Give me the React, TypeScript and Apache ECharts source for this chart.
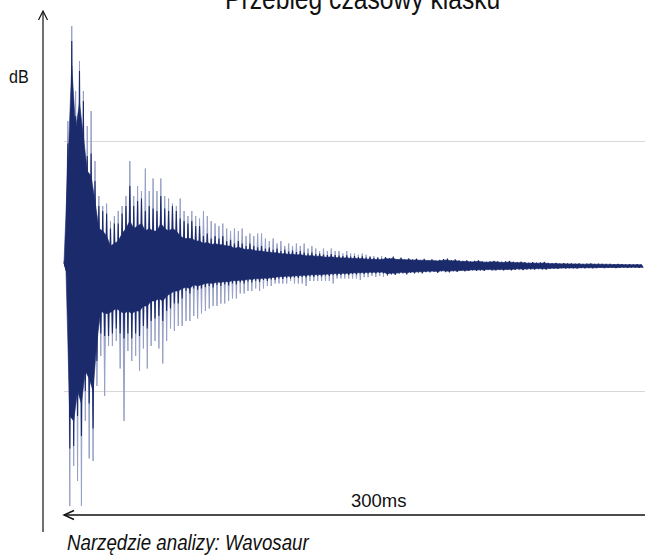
import React, { useEffect, useRef } from "react";
import * as echarts from "echarts";

// Time step between samples of the envelope (ms); axis spans 0..300 ms
const STEP_MS = 2;
const X_MAX_MS = 300;

const titleText = "Przebieg czasowy klasku";
const yLabel = "dB";
const spanLabel = "300ms";
const sourceText = "Narzędzie analizy: Wavosaur";

// Light (outer spike) envelope, % of full scale, first part of the decay
const peakHi = [
  2, 58, 96, 70, 82, 70, 56, 62, 42, 28,
  24, 25, 18, 20, 22, 24, 28, 42, 28, 32,
  30, 39, 30, 35, 30, 35, 28, 27, 25, 24,
  27, 22, 20, 22, 20, 19, 22, 20, 18, 17,
  16, 17, 15, 14, 15, 14, 15, 12, 13, 12,
  13, 13, 11, 10, 11, 9, 10, 8, 9, 8,
  9, 8, 9, 7, 8, 7, 6, 7, 6, 7,
  6, 6, 5, 6, 5, 5, 4.5, 5, 4.5, 4,
  4, 3.5, 4,
];
const peakLo = [
  -2, -96, -80, -86, -96, -62, -77, -78, -48, -36,
  -52, -32, -32, -30, -41, -62, -34, -38, -36, -42,
  -33, -41, -32, -30, -33, -39, -30, -25, -26, -24,
  -24, -22, -22, -20, -21, -19, -18, -17, -16, -16,
  -15, -15, -14, -13, -13, -11, -11, -10, -10, -9,
  -10, -9, -8, -8, -7, -7, -7, -7, -6, -7,
  -7, -7, -8, -6, -6, -6, -6, -6, -6, -7,
  -5, -5, -5, -5, -5, -5, -5.6, -4.5, -4.5, -4,
  -4.4, -4, -4.4,
];

// Dark spike envelope, % of full scale, whole 300 ms
const coreHi = [
  1.5, 49, 90, 60, 78, 66, 44, 45, 34, 24,
  22, 21, 15, 17, 17, 21, 24, 32, 24, 26,
  27, 22, 24, 23, 22, 28, 23, 22, 24, 22,
  19, 18, 17, 18, 16, 16, 12, 13, 11, 12,
  11, 12, 10, 10.5, 9, 10, 9, 8, 9, 8,
  7.5, 8, 7, 7.4, 6.5, 7, 6, 6.6, 5.8, 6.2,
  5.6, 6, 5.4, 5, 5.4, 4.8, 5, 4.6, 4.4, 4.8,
  4.4, 4.2, 4, 4.3, 3.8, 4, 3.6, 3.9, 3.4, 3.6,
  3.2, 3.4, 3,
  3.6, 3.2, 3.8, 2.8, 3.4, 2.8, 3.1, 2.7, 3, 2.5,
  2.9, 2.4, 2.7, 2.3, 2.5, 2.8, 3, 2.4, 2.7, 2.3,
  2.1, 2.3, 1.9, 2.1, 2.3, 1.9, 1.7, 1.9, 2.1, 1.9,
  1.7, 1.9, 2.1, 1.7, 1.5, 1.7, 1.5, 1.3, 1.5, 1.3,
  1.4, 1.6, 1.2, 1.1, 1.2, 1, 1.1, 1, 1, 0.9,
  1, 0.8, 0.9, 1, 0.8, 0.9, 0.8, 0.8, 0.8, 0.7,
  0.8, 0.7, 0.6, 0.7, 0.6, 0.7, 0.6,
];
const coreLo = [
  -1.5, -73, -72, -60, -68, -50, -55, -65, -38, -27,
  -28, -28, -27, -25, -27, -29, -27, -29, -27, -28,
  -24, -25, -22, -21, -20, -22, -18, -17, -15, -15,
  -13, -10, -11, -9, -9.5, -9, -8.5, -8, -8.6, -7.6,
  -8, -7.4, -7.8, -7, -7.4, -6.6, -7, -6.2, -6.6, -6,
  -6.4, -5.6, -6, -5.4, -5.6, -5, -5.2, -4.8, -5, -4.6,
  -4.8, -4.4, -4.6, -4.2, -4.4, -4, -4.2, -3.8, -4, -3.6,
  -3.8, -3.6, -3.4, -3.6, -3.2, -3.4, -3, -3.2, -3, -2.9,
  -3, -2.8, -3,
  -3.8, -3.4, -3.6, -3.1, -3, -3.4, -2.8, -3, -2.7, -3,
  -2.5, -2.6, -2.4, -2.8, -2.2, -2.5, -2.6, -2.2, -2.4, -2,
  -2.2, -2, -1.8, -2, -1.8, -2, -1.6, -1.8, -1.8, -1.6,
  -1.8, -1.6, -1.8, -1.5, -1.4, -1.6, -1.4, -1.3, -1.4, -1.2,
  -1.3, -1.4, -1.1, -1, -1.1, -0.9, -1, -0.9, -0.9, -1,
  -0.8, -0.9, -0.8, -0.9, -0.8, -0.7, -0.8, -0.7, -0.7, -0.8,
  -0.7, -0.6, -0.7, -0.6, -0.6, -0.7, -0.6,
];

// Solid dark band (dense body of the waveform), % of full scale
const solidHi = [
  1, 40, 80, 55, 65, 52, 38, 36, 26, 15,
  14, 12, 8, 9, 10, 13, 15, 18, 15, 16,
  17, 14, 15, 14, 14, 17, 15, 14, 15, 14,
  12, 11, 11, 11, 10, 10, 9, 9.5, 8.5, 9,
  8.5, 8.5, 8, 8, 7, 7.5, 7, 6.5, 6.8, 6.2,
  6, 6, 5.6, 5.6, 5.2, 5.4, 4.8, 5, 4.6, 4.8,
  4.4, 4.6, 4.2, 4, 4.2, 3.8, 4, 3.6, 3.5, 3.7,
  3.4, 3.3, 3.2, 3.3, 3, 3.1, 2.9, 3, 2.7, 2.8,
  2.6, 2.7, 2.5,
  3, 2.8, 3.1, 2.5, 2.8, 2.4, 2.6, 2.3, 2.5, 2.2,
  2.4, 2.1, 2.3, 2, 2.1, 2.3, 2.4, 2, 2.2, 1.9,
  1.8, 1.9, 1.6, 1.7, 1.9, 1.6, 1.5, 1.6, 1.7, 1.6,
  1.4, 1.5, 1.6, 1.4, 1.3, 1.4, 1.2, 1.1, 1.2, 1.1,
  1.1, 1.2, 1, 0.9, 1, 0.85, 0.9, 0.85, 0.85, 0.8,
  0.8, 0.7, 0.75, 0.8, 0.7, 0.7, 0.7, 0.65, 0.65, 0.6,
  0.6, 0.6, 0.5, 0.55, 0.5, 0.55, 0.5,
];
const solidLo = [
  -1, -60, -62, -50, -55, -42, -45, -50, -30, -18,
  -19, -19, -18, -17, -18, -19, -18, -19, -18, -18,
  -16, -16, -14, -14, -13, -14, -12, -11, -10, -10,
  -9, -8.5, -9, -7.5, -8, -7.5, -7, -6.8, -7, -6.4,
  -6.6, -6.2, -6.4, -5.8, -6, -5.6, -5.8, -5.2, -5.4, -5,
  -5.2, -4.8, -5, -4.6, -4.6, -4.2, -4.4, -4, -4.2, -3.9,
  -4, -3.7, -3.8, -3.5, -3.6, -3.4, -3.5, -3.2, -3.3, -3,
  -3.1, -3, -2.9, -3, -2.7, -2.8, -2.6, -2.7, -2.5, -2.5,
  -2.5, -2.4, -2.5,
  -3.1, -2.8, -3, -2.6, -2.5, -2.8, -2.3, -2.5, -2.2, -2.4,
  -2.1, -2.1, -2, -2.3, -1.8, -2, -2.1, -1.8, -2, -1.7,
  -1.8, -1.7, -1.5, -1.6, -1.5, -1.6, -1.3, -1.5, -1.5, -1.3,
  -1.5, -1.3, -1.4, -1.2, -1.1, -1.3, -1.1, -1.1, -1.1, -1,
  -1.1, -1.1, -0.9, -0.85, -0.9, -0.75, -0.8, -0.75, -0.75, -0.8,
  -0.65, -0.7, -0.65, -0.7, -0.65, -0.6, -0.65, -0.6, -0.6, -0.65,
  -0.55, -0.5, -0.55, -0.5, -0.5, -0.55, -0.5,
];

// y ticks: full scale ±100, grid lines at ±50
const yMin = -100;
const yMax = 100;
const yInterval = 50;

function zigzag(hi: number[], lo: number[]): number[][] {
  const out: number[][] = [];
  for (let i = 0; i < hi.length; i++) {
    out.push([i * STEP_MS, hi[i]]);
    out.push([i * STEP_MS + STEP_MS / 2, lo[i]]);
  }
  return out;
}

// rows [t, hi, lo] for the solid band
const solidRows = solidHi.map((v, i) => [i * STEP_MS, v, solidLo[i]]);

const FONT = "'Liberation Sans', Arial, sans-serif";
const LIGHT = "#97a0c6";
const DARK = "#1b2a6b";

export default function App() {
  const ref = useRef<HTMLDivElement>(null);
  useEffect(() => {
    if (!ref.current) return;
    const chart = echarts.init(ref.current, null, { renderer: "svg" });
    chart.setOption({
      animation: false,
      backgroundColor: "#ffffff",
      grid: { left: 64, right: 0, top: 16, bottom: 40 },
      xAxis: {
        type: "value",
        min: 0,
        max: X_MAX_MS,
        show: false,
      },
      yAxis: {
        type: "value",
        min: yMin,
        max: yMax,
        interval: yInterval,
        axisLine: { show: false },
        axisTick: { show: false },
        axisLabel: { show: false },
        splitLine: {
          show: true,
          lineStyle: {
            color: ["rgba(0,0,0,0)", "#d8d8d8", "rgba(0,0,0,0)", "#d8d8d8", "rgba(0,0,0,0)"],
            width: 1,
          },
        },
      },
      series: [
        {
          type: "line",
          name: "peaks",
          data: zigzag(peakHi, peakLo),
          showSymbol: false,
          symbol: "none",
          lineStyle: { color: LIGHT, width: 1 },
          areaStyle: { color: LIGHT, opacity: 1, origin: 0 },
          z: 2,
        },
        {
          type: "line",
          name: "spikes",
          data: zigzag(coreHi, coreLo),
          showSymbol: false,
          symbol: "none",
          lineStyle: { color: DARK, width: 1.1 },
          areaStyle: { color: DARK, opacity: 1, origin: 0 },
          z: 3,
        },
        {
          type: "custom",
          name: "body",
          coordinateSystem: "cartesian2d",
          data: solidRows,
          encode: { x: 0, y: [1, 2] },
          z: 4,
          renderItem: (params: any, api: any) => {
            if (params.dataIndex !== 0) return null;
            const pts: number[][] = [];
            for (let i = 0; i < solidRows.length; i++) {
              pts.push(api.coord([solidRows[i][0], solidRows[i][1]]));
            }
            for (let i = solidRows.length - 1; i >= 0; i--) {
              pts.push(api.coord([solidRows[i][0] + STEP_MS / 2, solidRows[i][2]]));
            }
            return {
              type: "polygon",
              shape: { points: pts },
              style: { fill: DARK, stroke: DARK, lineWidth: 0.6 },
            };
          },
        },
      ],
      graphic: [
        {
          type: "text",
          x: 225,
          y: 13.5,
          scaleX: 0.85,
          style: {
            text: titleText,
            fontSize: 29,
            fontFamily: FONT,
            fill: "#111",
            align: "left",
            verticalAlign: "bottom",
          },
        },
        {
          type: "text",
          x: 9,
          y: 86,
          scaleX: 0.85,
          style: { text: yLabel, fontSize: 19, fontFamily: FONT, fill: "#111", verticalAlign: "bottom" },
        },
        // vertical axis with arrow
        {
          type: "line",
          shape: { x1: 43, y1: 532, x2: 43, y2: 12 },
          style: { stroke: "#111", lineWidth: 1.2 },
        },
        {
          type: "polyline",
          shape: { points: [[38.5, 20], [43, 11], [47.5, 20]] },
          style: { stroke: "#111", lineWidth: 1.2, fill: null },
        },
        // horizontal time-span arrow
        {
          type: "line",
          shape: { x1: 64, y1: 515, x2: 645, y2: 515 },
          style: { stroke: "#111", lineWidth: 1.4 },
        },
        {
          type: "polyline",
          shape: { points: [[74, 510.5], [64, 515], [74, 519.5]] },
          style: { stroke: "#111", lineWidth: 1.4, fill: null },
        },
        {
          type: "text",
          x: 351,
          y: 510,
          style: { text: spanLabel, fontSize: 18.5, fontFamily: FONT, fill: "#111", verticalAlign: "bottom" },
        },
        {
          type: "text",
          x: 67,
          y: 553,
          scaleX: 0.85,
          style: {
            text: sourceText,
            fontSize: 22,
            fontStyle: "italic",
            fontFamily: FONT,
            fill: "#111",
            verticalAlign: "bottom",
          },
        },
      ],
    });
    return () => chart.dispose();
  }, []);
  return (
    <div
      ref={ref}
      style={{ position: "absolute", left: 0, top: 0, width: 645, height: 556, background: "#fff" }}
    />
  );
}
